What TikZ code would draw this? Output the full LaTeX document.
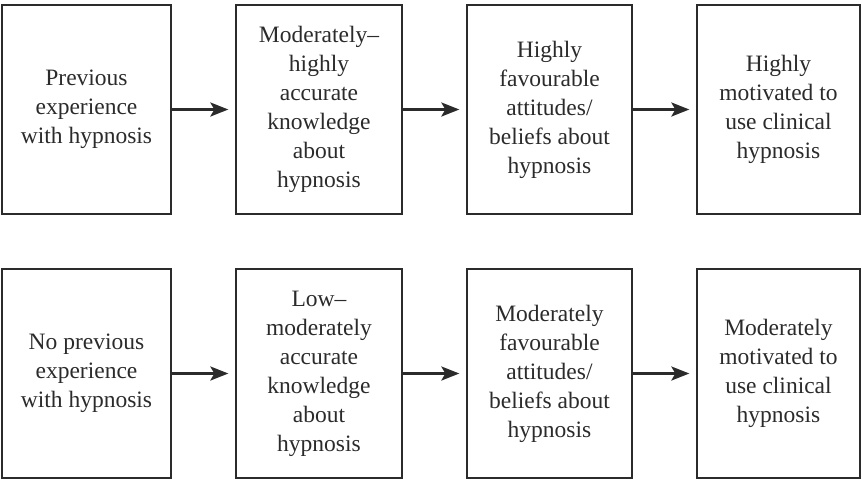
\documentclass[tikz,border=0pt]{standalone}
\usepackage{fontspec}
\setmainfont{Liberation Serif}
\usetikzlibrary{arrows.meta}
\definecolor{ink}{HTML}{2B2B2B}
\tikzset{
  box/.style={draw=ink, line width=1.3pt, rectangle, minimum height=209pt, inner sep=0pt,
    align=center, text=ink, font=\fontsize{23.5}{29}\selectfont},
  flow/.style={draw=ink, line width=2.6pt, -{Stealth[length=18pt,width=14pt,inset=4pt]}, shorten >=7pt}
}
\begin{document}
\begin{tikzpicture}[x=1pt,y=1pt]
\useasboundingbox (0,0) rectangle (862,-480);
% top row
\node[box, minimum width=169pt] (a1) at (86.5,-109.5) {Previous\\experience\\with hypnosis};
\node[box, minimum width=166pt] (a2) at (319,-109.5) {Moderately–\\highly\\accurate\\knowledge\\about\\hypnosis};
\node[box, minimum width=165pt] (a3) at (549.5,-109.5) {Highly\\favourable\\attitudes/\\beliefs about\\hypnosis};
\node[box, minimum width=163pt] (a4) at (778.5,-109.5) {Highly\\motivated to\\use clinical\\hypnosis};
% bottom row
\node[box, minimum width=169pt] (b1) at (86.5,-373.5) {No previous\\experience\\with hypnosis};
\node[box, minimum width=166pt] (b2) at (319,-373.5) {Low–\\moderately\\accurate\\knowledge\\about\\hypnosis};
\node[box, minimum width=165pt] (b3) at (549.5,-373.5) {Moderately\\favourable\\attitudes/\\beliefs about\\hypnosis};
\node[box, minimum width=163pt] (b4) at (778.5,-373.5) {Moderately\\motivated to\\use clinical\\hypnosis};
% arrows
\draw[flow] (a1) -- (a2);
\draw[flow] (a2) -- (a3);
\draw[flow] (a3) -- (a4);
\draw[flow] (b1) -- (b2);
\draw[flow] (b2) -- (b3);
\draw[flow] (b3) -- (b4);
\end{tikzpicture}
\end{document}
